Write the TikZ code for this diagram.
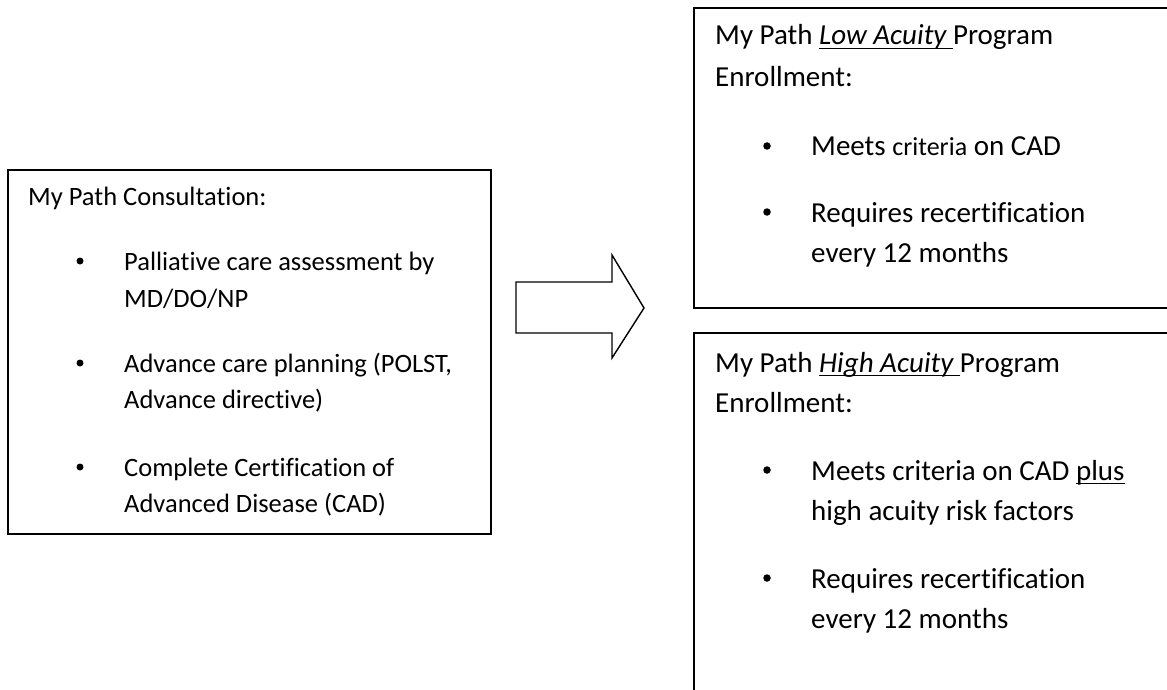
\documentclass[tikz,border=0pt]{standalone}
\usepackage{fontspec}
\setmainfont{Carlito}[Ligatures=NoCommon]
\newcommand{\ulx}[1]{\setbox0\hbox{#1}\rlap{\rule[-4pt]{\wd0}{1.4pt}}\box0}
\begin{document}
\begin{tikzpicture}[x=1pt,y=-1pt,
  boxline/.style={draw=black, line width=1.6pt, inner sep=0pt, anchor=north west},
  lt/.style={anchor=base west, inner sep=0pt, font=\fontsize{26.5}{30}\selectfont},
  rt/.style={anchor=base west, inner sep=0pt, font=\fontsize{29}{33}\selectfont},
  dot/.style={circle, fill=black, draw=none, inner sep=0pt, minimum size=#1}]
\useasboundingbox (0,0) rectangle (1167,690);
\clip (0,0) rectangle (1167,690);
\fill[white] (0,0) rectangle (1167,690);
% boxes
\node[boxline, minimum width=483pt, minimum height=364pt] (consult) at (7,169) {};
\node[boxline, minimum width=500pt, minimum height=300pt] (low) at (693,7) {};
\node[boxline, minimum width=500pt, minimum height=400pt] (high) at (693,332) {};
% block arrow
\draw[line width=1.4pt, line join=miter] (516,282) -- (612,282) -- (612,255) -- (644,308) -- (612,358) -- (612,333) -- (516,333) -- cycle;
% left box text
\node[lt] (c0) at (28,205) {My Path Consultation:};
\node[dot=7pt] (cb1) at (80,261) {};
\node[lt] (c1a) at (124,270) {Palliative care assessment by};
\node[lt] (c1b) at (124,307) {MD/DO/NP};
\node[dot=7pt] (cb2) at (80,363) {};
\node[lt] (c2a) at (124,372) {Advance care planning (POLST,};
\node[lt] (c2b) at (124,408) {Advance directive)};
\node[dot=7pt] (cb3) at (80,467) {};
\node[lt] (c3a) at (124,476) {Complete Certification of};
\node[lt] (c3b) at (124,512) {Advanced Disease (CAD)};
% top right box text
\node[rt] (l0a) at (715,45) {My Path \ulx{\itshape Low Acuity }Program};
\node[rt] (l0b) at (715,87) {Enrollment:};
\node[dot=7.5pt] (lb1) at (767,146) {};
\node[rt] (l1) at (811,156) {Meets {\fontsize{26}{30}\selectfont criteria} on CAD};
\node[dot=7.5pt] (lb2) at (767,212) {};
\node[rt] (l2a) at (811,222) {Requires recertification};
\node[rt] (l2b) at (811,262) {every 12 months};
% bottom right box text
\node[rt] (h0a) at (715,372) {My Path \ulx{\itshape High Acuity }Program};
\node[rt] (h0b) at (715,412) {Enrollment:};
\node[dot=7.5pt] (hb1) at (767,470) {};
\node[rt] (h1a) at (811,480) {Meets criteria on CAD \ulx{plus}};
\node[rt] (h1b) at (811,520) {high acuity risk factors};
\node[dot=7.5pt] (hb2) at (767,578) {};
\node[rt] (h2a) at (811,588) {Requires recertification};
\node[rt] (h2b) at (811,628) {every 12 months};
\end{tikzpicture}
\end{document}
